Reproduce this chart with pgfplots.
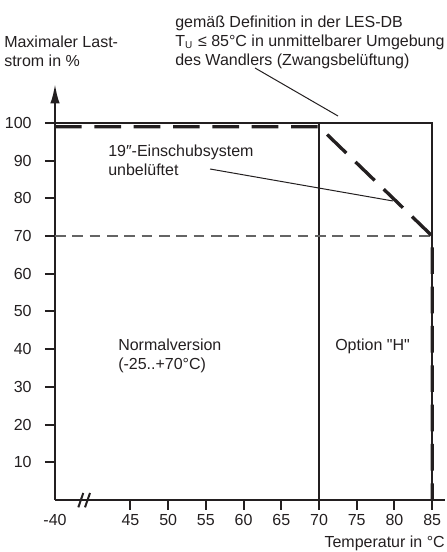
\documentclass[border=0pt]{standalone}
\usepackage{pgfplots}
\pgfplotsset{compat=1.18}
\usepackage{fontspec}
\setmainfont{Liberation Sans}
\usetikzlibrary{arrows.meta}
\definecolor{ink}{RGB}{35,31,32}
\definecolor{grayd}{RGB}{100,100,100}
\newcommand\dq{\XeTeXglyph\XeTeXcharglyph"22\relax}
\begin{document}
\begin{tikzpicture}
\begin{axis}[
  scale only axis,
  width=292.5pt, height=312.5pt,
  xmin=35, xmax=86.7, ymin=0, ymax=110.5,
  axis x line*=bottom, axis y line*=left,
  axis line style={line width=2pt, ink},
  y axis line style={-{Latex[length=15pt,width=7pt]}},
  tick align=outside,
  major tick length=7.5pt,
  tick style={line width=1.5pt, ink},
  xtick={45,50,...,85},
  ytick={10,20,...,100},
  extra x ticks={35}, extra x tick labels={-40},
  extra x tick style={major tick style={draw=none}},
  ticklabel style={font=\fontsize{12}{14}\selectfont, text=ink},
  /pgf/number format/assume math mode=true,
  yticklabel style={xshift=-6.5pt},
  clip=false,
]
\addplot[ink, line width=1.5pt, line join=miter, mark=none] coordinates {(35,100) (85,100) (85,0)};
\addplot[ink, line width=1.5pt, mark=none] coordinates {(70,0) (70,100)};
\addplot[grayd, line width=1pt, dash pattern=on 8pt off 5pt, mark=none] coordinates {(35,70) (85,70)};
\addplot[ink, line width=2.5pt, dash pattern=on 20pt off 9.5pt, line join=miter, mark=none] coordinates {(35,99) (70,99) (85,70) (85,0)};
\end{axis}
\tikzset{lbl/.style={inner sep=0pt, anchor=base west, font=\fontsize{12}{14}\selectfont, text=ink}}
\node[lbl] at (-38.25pt,339.5pt) {Maximaler Last-};
\node[lbl] at (-38.25pt,325pt) {strom in \%};
\node[lbl] at (90pt,354.4pt) {gemäß Definition in der LES-DB};
\node[lbl] at (90pt,340.1pt) {T\raisebox{-1.5pt}{\fontsize{7.5}{8}\selectfont U}\hspace{1pt} ≤ 85°C in unmittelbarer Umgebung};
\node[lbl] at (90pt,325.9pt) {des Wandlers (Zwangsbelüftung)};
\node[lbl] at (39.75pt,257.6pt) {19″-Einschubsystem};
\node[lbl] at (39.75pt,243pt) {unbelüftet};
\node[lbl] at (47.25pt,112pt) {Normalversion};
\node[lbl] at (47.25pt,97.9pt) {(-25..+70°C)};
\node[lbl] at (210pt,112pt) {Option \dq H\dq};
\node[lbl, anchor=base east] at (292.5pt,-35.6pt) {Temperatur in °C};
\draw[ink, line width=0.75pt] (150pt,324pt) -- (212.25pt,288pt);
\draw[ink, line width=0.75pt] (116.25pt,248.25pt) -- (253.5pt,224.25pt);
\draw[ink, line width=1.5pt] (17.5pt,-5.5pt) -- (21.2pt,5.25pt);
\draw[ink, line width=1.5pt] (22.5pt,-5.5pt) -- (26.25pt,5.25pt);
\pgfresetboundingbox
\path[use as bounding box] (-41.25pt,-39pt) rectangle (293.25pt,375pt);
\end{tikzpicture}
\end{document}
